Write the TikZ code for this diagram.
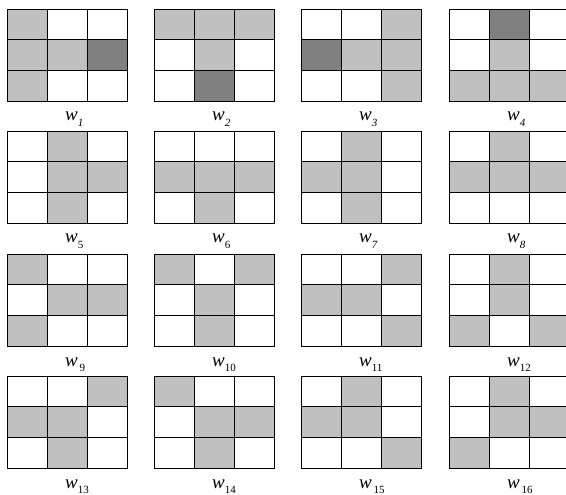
\documentclass[tikz,border=0pt]{standalone}
\usepackage{fontspec}
\setmainfont{Liberation Serif}
\definecolor{lightc}{HTML}{C0C0C0}
\definecolor{darkc}{HTML}{808080}
\newcommand\wlab[2]{\fontsize{19}{19}\selectfont\textit{w}\raisebox{-0.28em}{\fontsize{11}{11}\selectfont #1#2}}
% #1 x, #2 y, #3 light cells r/c, #4 label node name, #5 label
\newcommand\wgrid[5]{%
  \foreach \r/\c in {#3} \fill[lightc] ({#1+(\c-1)*40},{#2+(\r-1)*92/3}) rectangle ++(40,92/3);
  \draw[gridline] (#1,#2) rectangle ++(120,92);
  \foreach \k in {1,2} {
    \draw[gridline] ({#1+\k*40},#2) -- ++(0,92);
    \draw[gridline] (#1,{#2+\k*92/3}) -- ++(120,0);
  }
  \node[lab] (#4) at ({#1+58},{#2+112}) {#5};
}
\newcommand\wdark[4]{\fill[darkc] ({#1+(#4-1)*40},{#2+(#3-1)*92/3}) rectangle ++(40,92/3);}
\begin{document}
\begin{tikzpicture}[x=1pt,y=-1pt,
  gridline/.style={draw=black,line width=0.9pt},
  lab/.style={anchor=base west,inner sep=0pt}]
\useasboundingbox (0,0) rectangle (566,495);
\clip (0,0) rectangle (566,495);
\fill[white] (0,0) rectangle (566,495);
% row 1
\wdark{7}{9}{2}{3}
\wgrid{7}{9}{1/1,2/1,2/2,3/1}{l1}{\wlab{\itshape}{1}}
\wdark{154}{9}{3}{2}
\wgrid{154}{9}{1/1,1/2,1/3,2/2}{l2}{\wlab{\itshape}{2}}
\wdark{301}{9}{2}{1}
\wgrid{301}{9}{1/3,2/2,2/3,3/3}{l3}{\wlab{\itshape}{3}}
\wdark{449}{9}{1}{2}
\wgrid{449}{9}{2/2,3/1,3/2,3/3}{l4}{\wlab{\itshape}{4}}
% row 2
\wgrid{7}{131}{1/2,2/2,2/3,3/2}{l5}{\wlab{}{5}}
\wgrid{154}{131}{2/1,2/2,2/3,3/2}{l6}{\wlab{}{6}}
\wgrid{301}{131}{1/2,2/1,2/2,3/2}{l7}{\wlab{\itshape}{7}}
\wgrid{449}{131}{1/2,2/1,2/2,2/3}{l8}{\wlab{\itshape}{8}}
% row 3
\wgrid{7}{254}{1/1,2/2,2/3,3/1}{l9}{\wlab{\,}{9}}
\wgrid{154}{254}{1/1,1/3,2/2,3/2}{l10}{\wlab{}{10}}
\wgrid{301}{254}{1/3,2/1,2/2,3/3}{l11}{\wlab{}{11}}
\wgrid{449}{254}{1/2,2/2,3/1,3/3}{l12}{\wlab{}{12}}
% row 4
\wgrid{7}{376}{1/3,2/1,2/2,3/2}{l13}{\wlab{}{13}}
\wgrid{154}{376}{1/1,2/2,2/3,3/2}{l14}{\wlab{}{14}}
\wgrid{301}{376}{1/2,2/1,2/2,3/3}{l15}{\wlab{\,}{15}}
\wgrid{449}{376}{1/2,2/2,2/3,3/1}{l16}{\wlab{\,}{16}}
\end{tikzpicture}
\end{document}
